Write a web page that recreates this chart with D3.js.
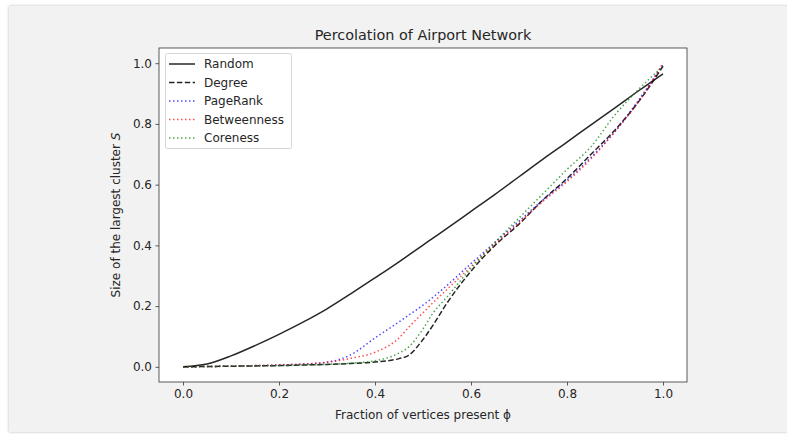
<!DOCTYPE html>
<html>
<head>
<meta charset="utf-8">
<script src="https://cdn.jsdelivr.net/npm/d3@7"></script>
<style>
  body { margin: 0; background: #fff; }
  svg text { font-family: "DejaVu Sans", sans-serif; fill: #262626; }
</style>
</head>
<body>
<svg id="chart" width="787" height="434"></svg>
<script>
// fraction of vertices present
var phi = [0, 0.05, 0.1, 0.15, 0.2, 0.25, 0.3, 0.35, 0.4, 0.45, 0.47, 0.5, 0.52, 0.55,
           0.6, 0.65, 0.7, 0.75, 0.8, 0.85, 0.9, 0.95, 1.0];

var randomS      = [0, 0.009, 0.036, 0.07, 0.107, 0.147, 0.191, 0.241, 0.293, 0.346, 0.368, 0.401, 0.423, 0.456,
                    0.512, 0.568, 0.626, 0.684, 0.74, 0.797, 0.853, 0.91, 0.965];
var degreeS      = [0, 0.001, 0.002, 0.003, 0.004, 0.006, 0.008, 0.011, 0.016, 0.027, 0.038, 0.09, 0.135, 0.21,
                    0.315, 0.4, 0.47, 0.55, 0.62, 0.7, 0.78, 0.875, 0.99];
var pagerankS    = [0, 0.001, 0.002, 0.004, 0.006, 0.009, 0.015, 0.04, 0.095, 0.148, 0.17, 0.203, 0.228, 0.268,
                    0.34, 0.41, 0.48, 0.55, 0.615, 0.69, 0.775, 0.88, 0.995];
var betweennessS = [0, 0.001, 0.002, 0.004, 0.006, 0.009, 0.015, 0.028, 0.048, 0.095, 0.13, 0.178, 0.21, 0.255,
                    0.33, 0.405, 0.475, 0.545, 0.61, 0.685, 0.775, 0.875, 1.0];
var corenessS    = [0, 0.001, 0.002, 0.003, 0.004, 0.006, 0.008, 0.012, 0.02, 0.045, 0.065, 0.125, 0.175, 0.23,
                    0.325, 0.41, 0.49, 0.57, 0.65, 0.725, 0.83, 0.915, 0.99];

var seriesNames = ["Random", "Degree", "PageRank", "Betweenness", "Coreness"];
var xTicks = [0, 0.2, 0.4, 0.6, 0.8, 1.0];
var yTicks = [0, 0.2, 0.4, 0.6, 0.8, 1.0];

var styles = {
  Random:      { color: "#000", dash: null, opacity: 0.85 },
  Degree:      { color: "#000", dash: "5.5,2.4", opacity: 0.85 },
  PageRank:    { color: "#0000ff", dash: "1.5,2.5", opacity: 0.7 },
  Betweenness: { color: "#ff0000", dash: "1.5,2.5", opacity: 0.7 },
  Coreness:    { color: "#008000", dash: "1.5,2.5", opacity: 0.7 }
};
var values = { Random: randomS, Degree: degreeS, PageRank: pagerankS, Betweenness: betweennessS, Coreness: corenessS };

(function() {
  var svg = d3.select("#chart");

  // screenshot frame
  var defs = svg.append("defs");
  var f = defs.append("filter").attr("id", "shadow").attr("x", "-5%").attr("y", "-5%").attr("width", "110%").attr("height", "110%");
  f.append("feDropShadow").attr("dx", 0).attr("dy", 0).attr("stdDeviation", 1.5).attr("flood-color", "#888").attr("flood-opacity", 0.6);
  svg.append("rect").attr("x", 9).attr("y", 6).attr("width", 790).attr("height", 426)
    .attr("fill", "#f2f2f2").attr("filter", "url(#shadow)");

  var mLeft = 159, mTop = 48, mRight = 687, mBottom = 382;

  var x = d3.scaleLinear().domain([-0.05, 1.05]).range([mLeft, mRight]);
  var y = d3.scaleLinear().domain([-0.05, 1.05]).range([mBottom, mTop]);

  svg.append("rect").attr("x", mLeft).attr("y", mTop).attr("width", mRight - mLeft).attr("height", mBottom - mTop)
    .attr("fill", "#fff");

  var line = d3.line().curve(d3.curveMonotoneX);

  var clip = defs.append("clipPath").attr("id", "plotclip");
  clip.append("rect").attr("x", mLeft).attr("y", mTop).attr("width", mRight - mLeft).attr("height", mBottom - mTop);

  var plot = svg.append("g").attr("clip-path", "url(#plotclip)");
  seriesNames.forEach(function(name) {
    var st = styles[name];
    var pts = phi.map(function(p, i) { return [x(p), y(values[name][i])]; });
    plot.append("path")
      .attr("d", line(pts))
      .attr("fill", "none")
      .attr("stroke", st.color)
      .attr("stroke-opacity", st.opacity)
      .attr("stroke-width", 1.5)
      .attr("stroke-dasharray", st.dash);
  });

  // axes
  var xAxis = svg.append("g").attr("transform", "translate(0," + mBottom + ")")
    .call(d3.axisBottom(x).tickValues(xTicks).tickFormat(d3.format(".1f")).tickSizeInner(3.5).tickSizeOuter(0).tickPadding(3.5));
  var yAxis = svg.append("g").attr("transform", "translate(" + mLeft + ",0)")
    .call(d3.axisLeft(y).tickValues(yTicks).tickFormat(d3.format(".1f")).tickSizeInner(3.5).tickSizeOuter(0).tickPadding(3.5));
  [xAxis, yAxis].forEach(function(a) {
    a.select(".domain").remove();
    a.selectAll("line").attr("stroke", "#333").attr("stroke-width", 0.8);
    a.selectAll("text").attr("font-size", 12).attr("font-family", "DejaVu Sans").attr("fill", "#262626");
  });

  svg.append("rect").attr("x", mLeft).attr("y", mTop).attr("width", mRight - mLeft).attr("height", mBottom - mTop)
    .attr("fill", "none").attr("stroke", "#333").attr("stroke-width", 0.8);

  // title and labels
  svg.append("text").attr("x", (mLeft + mRight) / 2).attr("y", 40).attr("text-anchor", "middle")
    .attr("font-size", 14.4).text("Percolation of Airport Network");

  svg.append("text").attr("x", (mLeft + mRight) / 2).attr("y", 419).attr("text-anchor", "middle")
    .attr("font-size", 12).text("Fraction of vertices present ϕ");

  var yl = svg.append("text").attr("transform", "translate(120," + ((mTop + mBottom) / 2) + ") rotate(-90)")
    .attr("text-anchor", "middle").attr("font-size", 12);
  yl.append("tspan").text("Size of the largest cluster ");
  yl.append("tspan").attr("font-style", "italic").text("S");

  // legend
  var lg = svg.append("g");
  lg.append("rect").attr("x", 165.5).attr("y", 53.5).attr("width", 126).attr("height", 95).attr("rx", 2)
    .attr("fill", "#fff").attr("fill-opacity", 0.8).attr("stroke", "#ccc").attr("stroke-width", 0.8);
  seriesNames.forEach(function(name, i) {
    var st = styles[name];
    var ly = 64 + i * 18.5;
    lg.append("line").attr("x1", 169).attr("x2", 195).attr("y1", ly).attr("y2", ly)
      .attr("stroke", st.color).attr("stroke-opacity", st.opacity).attr("stroke-width", 1.5)
      .attr("stroke-dasharray", st.dash);
    lg.append("text").attr("x", 204).attr("y", ly + 4.3).attr("font-size", 12).text(name);
  });
})();
</script>
</body>
</html>
